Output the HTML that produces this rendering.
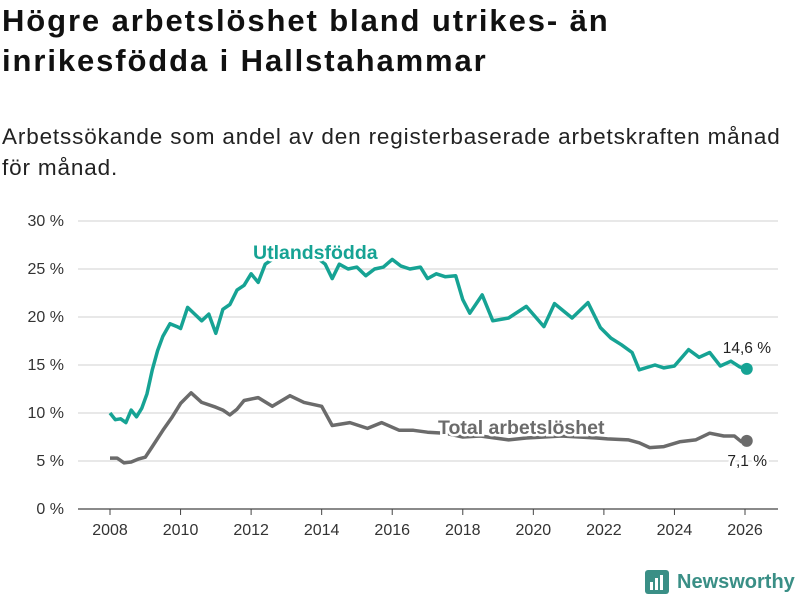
<!DOCTYPE html>
<html><head><meta charset="utf-8">
<style>
body{margin:0;background:#fff;font-family:"Liberation Sans","DejaVu Sans",sans-serif;}
#wrap{position:relative;width:800px;height:600px;overflow:hidden;}
h1{position:absolute;left:2px;top:1px;margin:0;font-size:31px;line-height:40px;font-weight:bold;color:#111;width:798px;white-space:nowrap;letter-spacing:1.9px}
p.sub{position:absolute;left:2px;top:121px;margin:0;font-size:22.5px;line-height:31px;color:#222;width:798px;white-space:nowrap;letter-spacing:0.85px}
</style></head><body>
<div id="wrap">
<h1>Högre arbetslöshet bland utrikes- än<br>inrikesfödda i Hallstahammar</h1>
<p class="sub">Arbetssökande som andel av den registerbaserade arbetskraften månad<br>för månad.</p>
<svg id="chart" width="800" height="600" style="position:absolute;left:0;top:0"></svg>
<div style="position:absolute;left:645px;top:570px;display:flex;align-items:center">
<svg width="24" height="24"><rect x="0" y="0" width="24" height="24" rx="3" fill="#3a8f86"/><rect x="5" y="12" width="3" height="8" fill="#fff"/><rect x="10" y="8" width="3" height="12" fill="#fff"/><rect x="15" y="5" width="3" height="15" fill="#fff"/></svg>
<span style="margin-left:8px;font-size:20px;font-weight:bold;color:#3a8f86">Newsworthy</span></div>
</div>
<script>
const yTicks=[0,5,10,15,20,25,30];
const xTicks=[2008,2010,2012,2014,2016,2018,2020,2022,2024,2026];
const utlYears=[2008,2008.15,2008.3,2008.45,2008.6,2008.75,2008.9,2009.05,2009.2,2009.35,2009.5,2009.7,2009.9,2010,2010.2,2010.4,2010.6,2010.8,2011,2011.2,2011.4,2011.6,2011.8,2012,2012.2,2012.4,2012.6,2012.8,2013,2013.4,2013.8,2014.1,2014.3,2014.5,2014.75,2015,2015.25,2015.5,2015.75,2016,2016.25,2016.5,2016.8,2017,2017.25,2017.5,2017.8,2018,2018.2,2018.55,2018.85,2019.3,2019.8,2020.3,2020.6,2021.1,2021.55,2021.9,2022.2,2022.5,2022.8,2023,2023.45,2023.7,2024,2024.4,2024.7,2025,2025.3,2025.6,2025.85,2026.05];
const utlVals=[10,9.3,9.4,9,10.3,9.6,10.5,12,14.5,16.5,18,19.3,19,18.8,21,20.3,19.6,20.3,18.3,20.8,21.3,22.8,23.3,24.5,23.6,25.5,26,26.3,26.5,26.6,26.4,25.5,24,25.5,25,25.2,24.3,25,25.2,26,25.3,25,25.2,24,24.5,24.2,24.3,21.8,20.4,22.3,19.6,19.9,21.1,19,21.4,19.9,21.5,18.9,17.8,17.1,16.3,14.5,15,14.7,14.9,16.6,15.8,16.3,14.9,15.4,14.8,14.6];
const totYears=[2008,2008.2,2008.4,2008.6,2008.8,2009,2009.2,2009.5,2009.75,2010,2010.3,2010.6,2011,2011.2,2011.4,2011.6,2011.8,2012.2,2012.6,2013.1,2013.5,2014,2014.3,2014.8,2015.3,2015.7,2016.2,2016.6,2017,2017.5,2018,2018.5,2019.3,2019.8,2020.3,2020.8,2021.3,2021.8,2022.1,2022.7,2023,2023.3,2023.7,2024.15,2024.6,2025,2025.4,2025.7,2025.9,2026.05];
const totVals=[5.3,5.3,4.8,4.9,5.2,5.4,6.5,8.2,9.5,11,12.1,11.1,10.6,10.3,9.8,10.4,11.3,11.6,10.7,11.8,11.1,10.7,8.7,9,8.4,9,8.2,8.2,8,7.9,7.5,7.6,7.2,7.4,7.5,7.6,7.5,7.4,7.3,7.2,6.9,6.4,6.5,7,7.2,7.9,7.6,7.6,7,7.1];
const svg=document.getElementById('chart');const NS='http://www.w3.org/2000/svg';
const X0=110,X1=745,Y0=509,Y1=221;
function xs(v){return X0+(v-2008)/(2026-2008)*(X1-X0);}
function ys(v){return Y0-(v/30)*(Y0-Y1);}
function mk(t,a){const e=document.createElementNS(NS,t);for(const k in a)e.setAttribute(k,a[k]);svg.appendChild(e);return e;}
yTicks.forEach(t=>{
 const l=mk('line',{x1:78,x2:778,y1:ys(t),y2:ys(t),stroke:t===0?'#444':'#d9d9d9','stroke-width':1.2});
 
 
 const tx=mk('text',{x:64,y:ys(t)+5,'text-anchor':'end','font-size':16,fill:'#333','font-family':'Liberation Sans, sans-serif'});
 tx.textContent=t+' %';
 
 
});
xTicks.forEach(t=>{
 const l=mk('line',{x1:xs(t),x2:xs(t),y1:509,y2:515,stroke:'#444'});
 
 
 const tx=mk('text',{x:xs(t),y:535,'text-anchor':'middle','font-size':16,fill:'#333','font-family':'Liberation Sans, sans-serif'});
 tx.textContent=t;
 
 
});
function line(yrs,vals,col,name){
 const d=yrs.map((y,i)=>(i?'L':'M')+xs(y).toFixed(1)+','+ys(vals[i]).toFixed(1)).join('');
 const p=mk('path',{d:d,fill:'none',stroke:col,'stroke-width':3.5,'stroke-linejoin':'round'});
 
 
 const n=yrs.length-1;
 const c=mk('circle',{cx:xs(yrs[n]),cy:ys(vals[n]),r:6,fill:col});
 
 
}
line(totYears,totVals,'#6b6b6b','total-line');
line(utlYears,utlVals,'#16a394','utlandsfodda-line');
function label(txt,x,y,col,size,weight,name,anchor){
 const t=mk('text',{x:x,y:y,'font-size':size,'font-weight':weight,fill:col,stroke:'#fff','stroke-width':5,'paint-order':'stroke','text-anchor':anchor||'start','font-family':'Liberation Sans, sans-serif'});
 t.textContent=txt;
 
 
}
label('Utlandsfödda',253,259,'#16a394',19.5,'bold','utlandsfodda-label');
label('Total arbetslöshet',438,434,'#6b6b6b',19.5,'bold','total-label');
label('14,6 %',771,353,'#222',15.5,'normal','utlandsfodda-end-value','end');
label('7,1 %',767,466,'#222',15.5,'normal','total-end-value','end');
</script>
</body></html>
